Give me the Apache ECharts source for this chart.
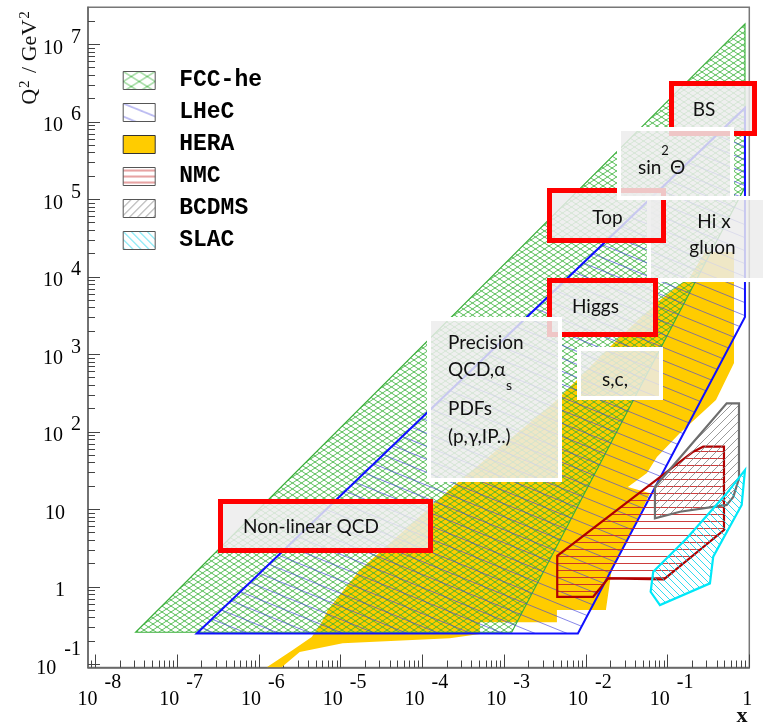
<!DOCTYPE html>
<html><head><meta charset="utf-8">
<script src="https://cdn.jsdelivr.net/npm/echarts@6/dist/echarts.min.js"></script>
<style>html,body{margin:0;padding:0;background:#fff}#c{width:763px;height:725px}</style>
</head><body><div id="c"></div>
<script>
// ---- data: polygon vertices [x, Q2] ----
const fccHe = [[3.11e-8, 0.26], [0.885, 1.83e7], [0.885, 1.44e5], [1.24e-3, 0.26]];
const lhec  = [[1.74e-7, 0.25], [0.885, 1.51e6], [0.885, 3030], [8.0e-3, 0.25]];
const hera  = [[1.25e-6, 0.092], [1.90e-6, 0.092], [3.16e-6, 0.144], [1.06e-5, 0.188], [2.17e-4, 0.218],
  [5.06e-4, 0.246], [5.06e-4, 0.351], [4.43e-3, 0.351], [4.43e-3, 0.502], [0.0176, 0.502],
  [0.0207, 1.65], [0.0366, 5.41], [0.061, 16.2], [0.0327, 19.4], [0.056, 29.4], [0.0741, 47.3],
  [0.142, 96.6], [0.391, 257], [0.65, 773], [0.65, 20900], [0.287, 20900], [0.188, 9930],
  [0.0807, 5010], [0.0261, 1670], [4.43e-3, 257], [2.64e-4, 21.8], [1.72e-5, 1.65],
  [6.97e-6, 0.502], [5.89e-6, 0.351], [4.43e-6, 0.226], [2.6e-6, 0.153]];
const nmc   = [[4.47e-3, 2.52], [4.47e-3, 0.745], [0.0123, 0.745], [0.0188, 1.29], [0.0902, 1.25],
  [0.49, 5.41], [0.49, 64.3], [0.273, 64.3], [0.206, 55.4]];
const bcdms = [[0.0701, 19.6], [0.0701, 7.65], [0.142, 9.31], [0.529, 11.4], [0.637, 14.5],
  [0.748, 25.1], [0.748, 233], [0.529, 233]];
const slac  = [[0.885, 32.1], [0.807, 11.4], [0.362, 2.45], [0.33, 1.11], [0.0807, 0.582],
  [0.0621, 0.865], [0.0668, 1.57], [0.171, 4.22], [0.529, 16.1]];

const legendNames = ['FCC-he', 'LHeC', 'HERA', 'NMC', 'BCDMS', 'SLAC'];
const xMajorTicks = [1e-8, 1e-7, 1e-6, 1e-5, 1e-4, 1e-3, 1e-2, 1e-1, 1];
const yMajorTicks = [1e-1, 1, 10, 1e2, 1e3, 1e4, 1e5, 1e6, 1e7];
const mantissas = [2, 3, 4, 5, 6, 7, 8, 9];
const xDecades = [1e-9, 1e-8, 1e-7, 1e-6, 1e-5, 1e-4, 1e-3, 1e-2, 1e-1];
const yDecades = [1e-1, 1, 10, 1e2, 1e3, 1e4, 1e5, 1e6, 1e7];
const xMinorTicks = [], yMinorTicks = [];
xDecades.forEach(d => mantissas.forEach(m => xMinorTicks.push(+(m * d).toPrecision(3))));
yDecades.forEach(d => mantissas.forEach(m => yMinorTicks.push(+(m * d).toPrecision(3))));

const xMin = Math.pow(10, -8.09), xMax = 1;
const yMin = Math.pow(10, -1.04), yMax = Math.pow(10, 7.477);

// ---- hatch patterns ----
function pattern(w, h, color, lw, kinds, bg) {
  const c = document.createElement('canvas'); c.width = w; c.height = h;
  const g = c.getContext('2d');
  if (bg) { g.fillStyle = bg; g.fillRect(0, 0, w, h); }
  g.strokeStyle = color; g.lineWidth = lw; g.beginPath();
  kinds.forEach(k => {
    if (k === 'h') { g.moveTo(0, h / 2); g.lineTo(w, h / 2); }
    for (let i = -1; i <= 1; i++) {
      if (k === 'down') { g.moveTo(0, i * h); g.lineTo(w, h + i * h); }
      if (k === 'up') { g.moveTo(0, h + i * h); g.lineTo(w, i * h); }
    }
  });
  g.stroke();
  return { image: c, repeat: 'repeat' };
}
const fccFill   = pattern(9, 6, 'rgba(50,175,50,0.8)', 1, ['down', 'up']);
const lhecFill  = pattern(32, 13, 'rgba(70,70,220,0.65)', 1, ['down']);
const nmcFill   = pattern(8, 7, 'rgba(200,40,40,0.9)', 1, ['h']);
const bcdmsFill = pattern(8, 8, 'rgba(130,130,130,0.8)', 1, ['up']);
const slacFill  = pattern(7, 7, 'rgba(0,210,235,0.8)', 1, ['down']);
const heraFill  = '#ffcc00';

function polySeries(name, pts, style) {
  return {
    type: 'custom', name: name, coordinateSystem: 'cartesian2d', xAxisIndex: 0, yAxisIndex: 0,
    clip: true, silent: true, data: pts, encode: { x: 0, y: 1 },
    renderItem: function (params, api) {
      if (params.dataIndex !== 0) return null;
      const coords = pts.map(p => api.coord(p));
      return { type: 'polygon', shape: { points: coords }, style: style };
    }
  };
}

const serif = 'Liberation Serif';
const lab = { fontFamily: serif, fontSize: 20, color: '#000', lineHeight: 20, verticalAlign: 'middle' };
function xLabel(v) {
  const e = Math.round(Math.log10(v));
  if (e === 0) return '{one|1}';
  return '{b|10}{s|' + e + '}';
}
function yLabel(v) {
  const e = Math.round(Math.log10(v));
  if (e === 0) return '{p|1}';
  if (e === 1) return '{p|10}';
  if (e < 0) return '{b|10}{sn|' + e + '}';
  return '{b|10}{s|' + e + '}';
}

const axisCommon = { type: 'log', logBase: 10, splitLine: { show: false }, minorTick: { show: false }, minorSplitLine: { show: false } };

const chart = echarts.init(document.getElementById('c'), null, { renderer: 'canvas' });

function box(x0, y0, x1, y1, stroke, lw) {
  return { type: 'rect', z: 100, silent: true,
    shape: { x: x0 + lw / 2, y: y0 + lw / 2, width: x1 - x0 - lw, height: y1 - y0 - lw },
    style: { fill: 'rgba(236,236,236,0.84)', stroke: stroke, lineWidth: lw } };
}
function txt(x, y, t, size, align) {
  return { type: 'text', z: 100, silent: true, x: x, y: y,
    style: { text: t, fontFamily: 'Lato', fontSize: size || 19, fill: '#111', align: align || 'left', verticalAlign: 'middle' } };
}
const RED = '#ff0000', WHITE = '#ffffff';

chart.setOption({
  animation: false,
  backgroundColor: '#fff',
  grid: { left: 88, right: 13.7, top: 7.3, bottom: 57.5, show: true, borderColor: '#777', borderWidth: 1.5, outerBoundsMode: 'none', containLabel: false },
  legend: {
    orient: 'vertical', left: 122.7, top: 69, padding: 0, itemWidth: 32, itemHeight: 18, itemGap: 9,
    icon: 'rect', selectedMode: false,
    textStyle: { fontFamily: 'Liberation Mono', fontWeight: 'bold', fontSize: 23, color: '#000', lineHeight: 18, padding: [0, 0, 0, 19] },
    data: [
      { name: 'FCC-he', itemStyle: { color: pattern(16, 10, 'rgba(50,175,50,0.8)', 1, ['down', 'up'], '#fff'), borderColor: '#555', borderWidth: 1 } },
      { name: 'LHeC', itemStyle: { color: pattern(32, 13, 'rgba(70,70,220,0.7)', 1, ['down'], '#fff'), borderColor: '#555', borderWidth: 1 } },
      { name: 'HERA', itemStyle: { color: heraFill, borderColor: '#333', borderWidth: 1 } },
      { name: 'NMC', itemStyle: { color: pattern(8, 6, 'rgba(200,40,40,0.85)', 1, ['h'], '#fff'), borderColor: '#555', borderWidth: 1 } },
      { name: 'BCDMS', itemStyle: { color: pattern(8, 8, 'rgba(110,110,110,0.8)', 1, ['up'], '#fff'), borderColor: '#555', borderWidth: 1 } },
      { name: 'SLAC', itemStyle: { color: pattern(8, 8, 'rgba(0,210,235,0.8)', 1, ['down'], '#fff'), borderColor: '#555', borderWidth: 1 } }
    ]
  },
  xAxis: [
    Object.assign({}, axisCommon, {
      min: xMin, max: xMax, position: 'bottom',
      axisLine: { show: true, onZero: false, lineStyle: { color: '#666', width: 1.5 } },
      axisTick: { show: true, inside: true, length: 13, customValues: xMajorTicks, lineStyle: { color: '#444', width: 1 } },
      axisLabel: { show: true, margin: 13, customValues: xMajorTicks, formatter: xLabel, verticalAlign: 'top',
        rich: {
          b: Object.assign({}, lab, { padding: [19, 0, 0, 8] }),
          s: Object.assign({}, lab, { padding: [0, 0, 16, 7] }),
          one: Object.assign({}, lab, { padding: [19, 4, 0, 0] })
        } }
    }),
    Object.assign({}, axisCommon, {
      min: xMin, max: xMax, position: 'bottom',
      axisLine: { show: false, onZero: false },
      axisTick: { show: true, inside: true, length: 7, customValues: xMinorTicks, lineStyle: { color: '#444', width: 1 } },
      axisLabel: { show: false }
    })
  ],
  yAxis: [
    Object.assign({}, axisCommon, {
      min: yMin, max: yMax, position: 'left',
      axisLine: { show: true, onZero: false, lineStyle: { color: '#666', width: 1.5 } },
      axisTick: { show: true, inside: true, length: 12, customValues: yMajorTicks, lineStyle: { color: '#444', width: 1 } },
      axisLabel: { show: true, margin: 7, customValues: yMajorTicks, formatter: yLabel, align: 'right', verticalAlign: 'middle',
        rich: {
          b: Object.assign({}, lab, { padding: [13, 0, 5, 0] }),
          s: Object.assign({}, lab, { padding: [2, 0, 16, 8] }),
          sn: Object.assign({}, lab, { padding: [2, 0, 32, 8] }),
          p: Object.assign({}, lab, { padding: [13, 16, 5, 0] })
        } }
    }),
    Object.assign({}, axisCommon, {
      min: yMin, max: yMax, position: 'left', offset: 0,
      axisLine: { show: false, onZero: false },
      axisTick: { show: true, inside: true, length: 7, customValues: yMinorTicks, lineStyle: { color: '#444', width: 1 } },
      axisLabel: { show: false }
    })
  ],
  series: [
    polySeries('HERA', hera, { fill: heraFill, stroke: null, lineWidth: 0 }),
    polySeries('FCC-he', fccHe, { fill: fccFill, stroke: '#3cb03c', lineWidth: 1.2 }),
    polySeries('LHeC', lhec, { fill: lhecFill, stroke: '#1010ff', lineWidth: 2 }),
    polySeries('NMC', nmc, { fill: nmcFill, stroke: '#b00000', lineWidth: 2.2 }),
    polySeries('BCDMS', bcdms, { fill: bcdmsFill, stroke: '#6e6e6e', lineWidth: 2.2 }),
    polySeries('SLAC', slac, { fill: slacFill, stroke: '#00e8f8', lineWidth: 2.2 })
  ],
  graphic: [
    { type: 'text', silent: true, x: 30, y: 57, rotation: Math.PI / 2,
      style: { text: '{q|Q}{s|2}{q| / GeV}{s|2}', align: 'center', verticalAlign: 'middle',
        rich: { q: { fontFamily: serif, fontSize: 22, fill: '#111', lineHeight: 24 },
                s: { fontFamily: serif, fontSize: 15, fill: '#111', lineHeight: 24, verticalAlign: 'top', padding: [0, 2, 0, 1] } } } },
    { type: 'text', silent: true, x: 742, y: 716,
      style: { text: 'x', fontFamily: serif, fontWeight: 'bold', fontSize: 22, fill: '#111', align: 'center', verticalAlign: 'middle' } },
    box(647, 196, 775, 282, WHITE, 4),
    txt(714, 222, 'Hi x', 19, 'center'), txt(712.5, 248, 'gluon', 19, 'center'),
    box(547, 188, 666, 243, RED, 5),
    txt(607.5, 218, 'Top', 19, 'center'),
    box(669, 81, 757, 136, RED, 5),
    txt(704, 110, 'BS', 19, 'center'),
    box(617, 127, 734, 200, WHITE, 4),
    txt(638, 168, 'sin', 19), txt(670, 168, 'Θ', 19), txt(665, 151, '2', 13, 'center'),
    box(547, 278, 658, 337, RED, 5),
    txt(572, 307, 'Higgs', 19),
    box(427, 317, 562, 482, WHITE, 4),
    txt(448, 343, 'Precision', 19), txt(448, 370, 'QCD,α', 19), txt(506, 385, 's', 14),
    txt(448, 409, 'PDFs', 19), txt(448, 437, '(p,γ,IP..)', 19),
    box(577, 347, 663, 400, WHITE, 4),
    txt(615, 380, 's,c,', 19, 'center'),
    box(218, 499, 433, 553, RED, 5),
    txt(243, 527, 'Non-linear QCD', 19)
  ]
});
</script></body></html>
